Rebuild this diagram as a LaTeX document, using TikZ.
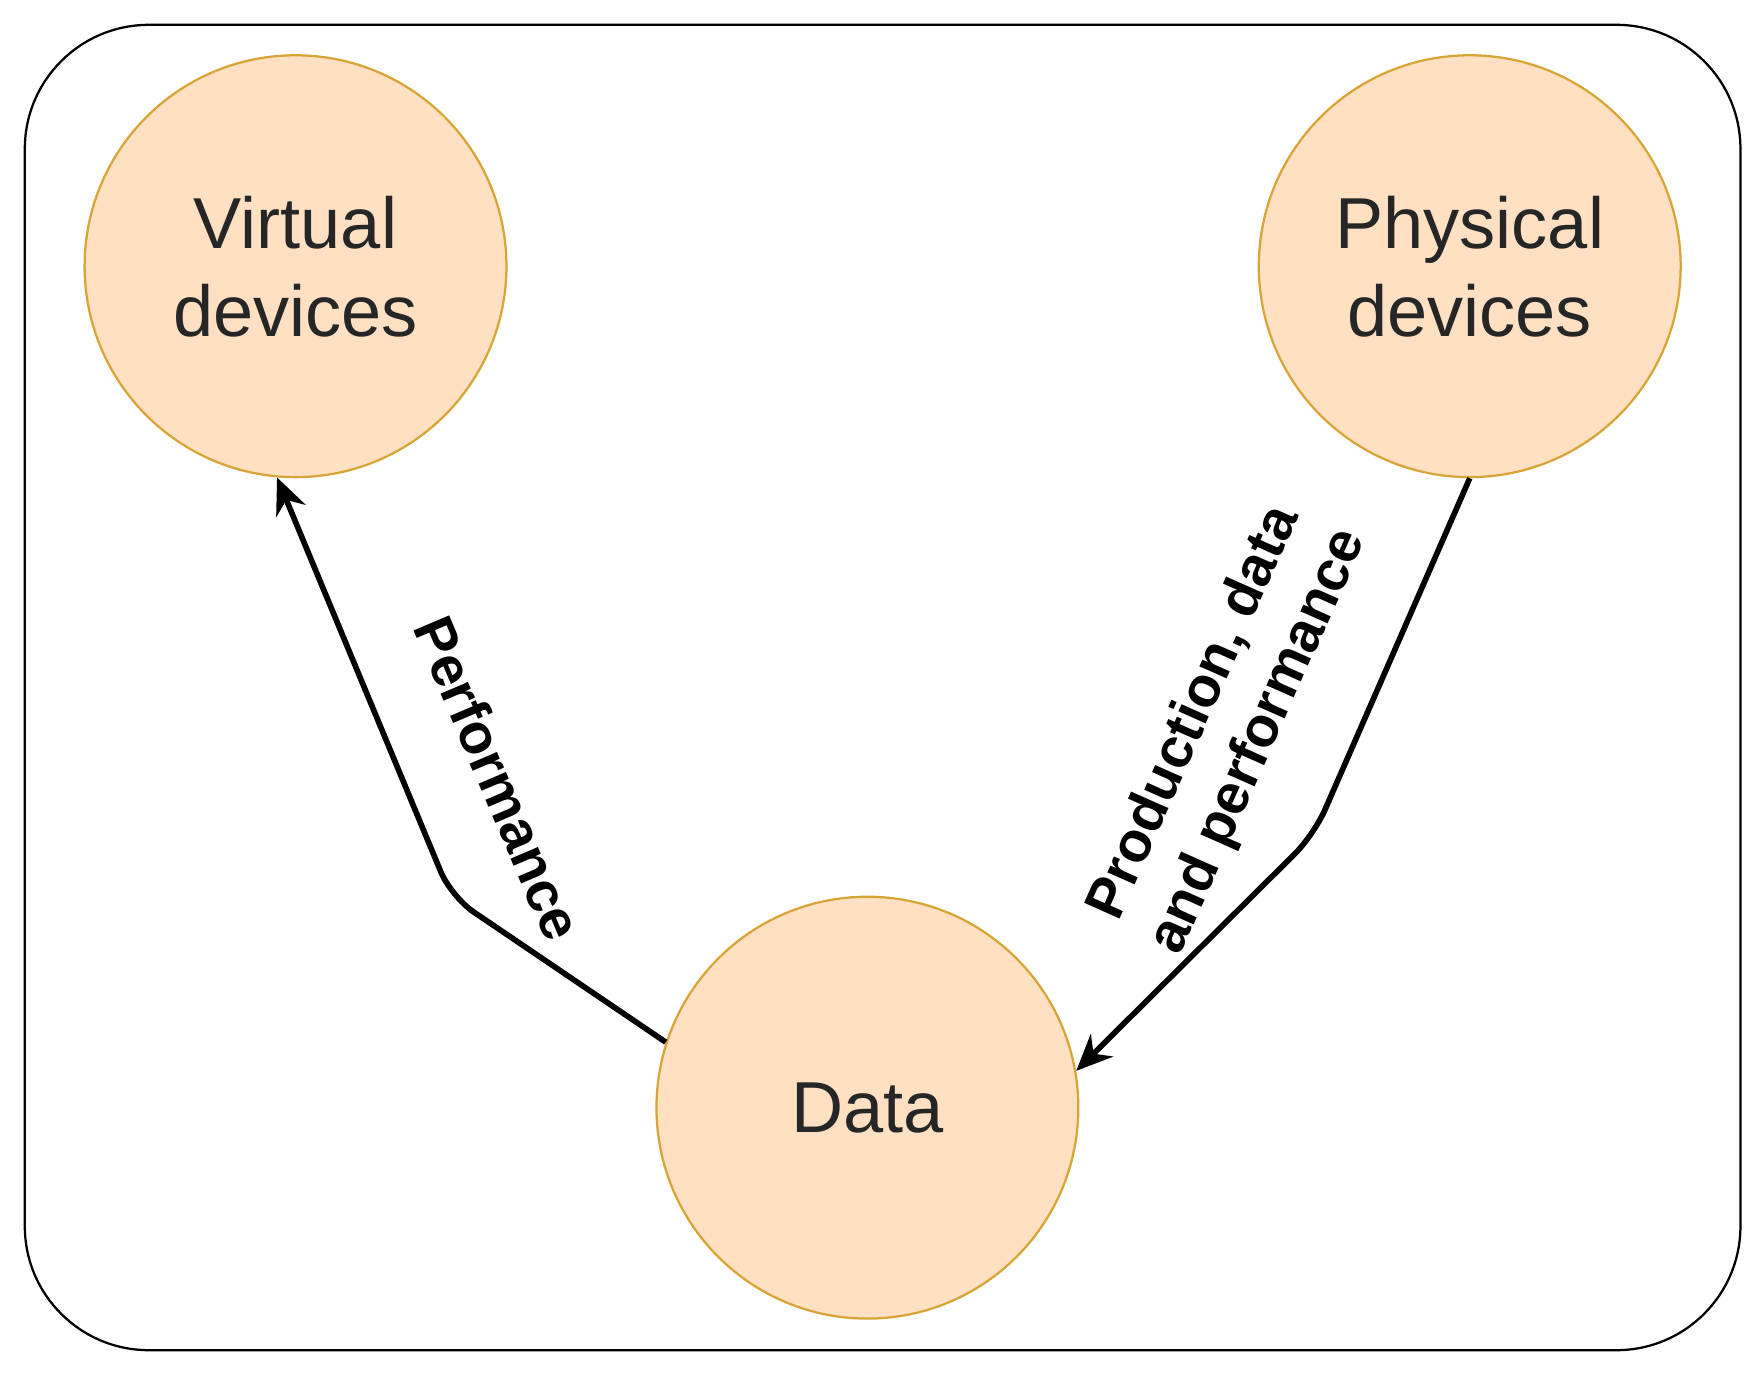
\documentclass[tikz,border=0pt]{standalone}
\usepackage{fontspec}
\usetikzlibrary{arrows.meta}
\setmainfont{Liberation Sans}
\definecolor{cfill}{HTML}{FFE0C2}
\definecolor{cdraw}{HTML}{D9A436}
\begin{document}
\begin{tikzpicture}[x=0.5pt,y=-0.5pt,
  dev/.style={circle,draw=cdraw,fill=cfill,line width=1pt,minimum size=187pt,inner sep=0pt,align=center,font=\fontsize{32}{39}\selectfont,text=black!85},
  arr/.style={line width=2.5pt,-{Stealth[length=16pt,width=14pt]}},
  lab/.style={font=\bfseries\fontsize{25}{31}\selectfont,align=center}]
\useasboundingbox (0,0) rectangle (1563,1217);
\draw[line width=1pt,rounded corners=55pt] (22,22) rectangle (1543,1197);
\node[dev] (v) at (262,236) {Virtual\\devices};
\node[dev] (p) at (1303,236) {Physical\\devices};
\node[dev] (d) at (769,982) {Data};
\coordinate (l1) at (400,795);
\coordinate (r1) at (1165,740);
\draw[arr,rounded corners=12pt] (d.162) -- (l1) -- (v.265);
\draw[arr,rounded corners=12pt] (p.270) -- (r1) -- (d.10);
\node[lab,rotate=-67] (pl) at (442,690) {Performance};
\node[lab,rotate=66] (rl) at (1088,645) {Production, data\\and performance};
\end{tikzpicture}
\end{document}
